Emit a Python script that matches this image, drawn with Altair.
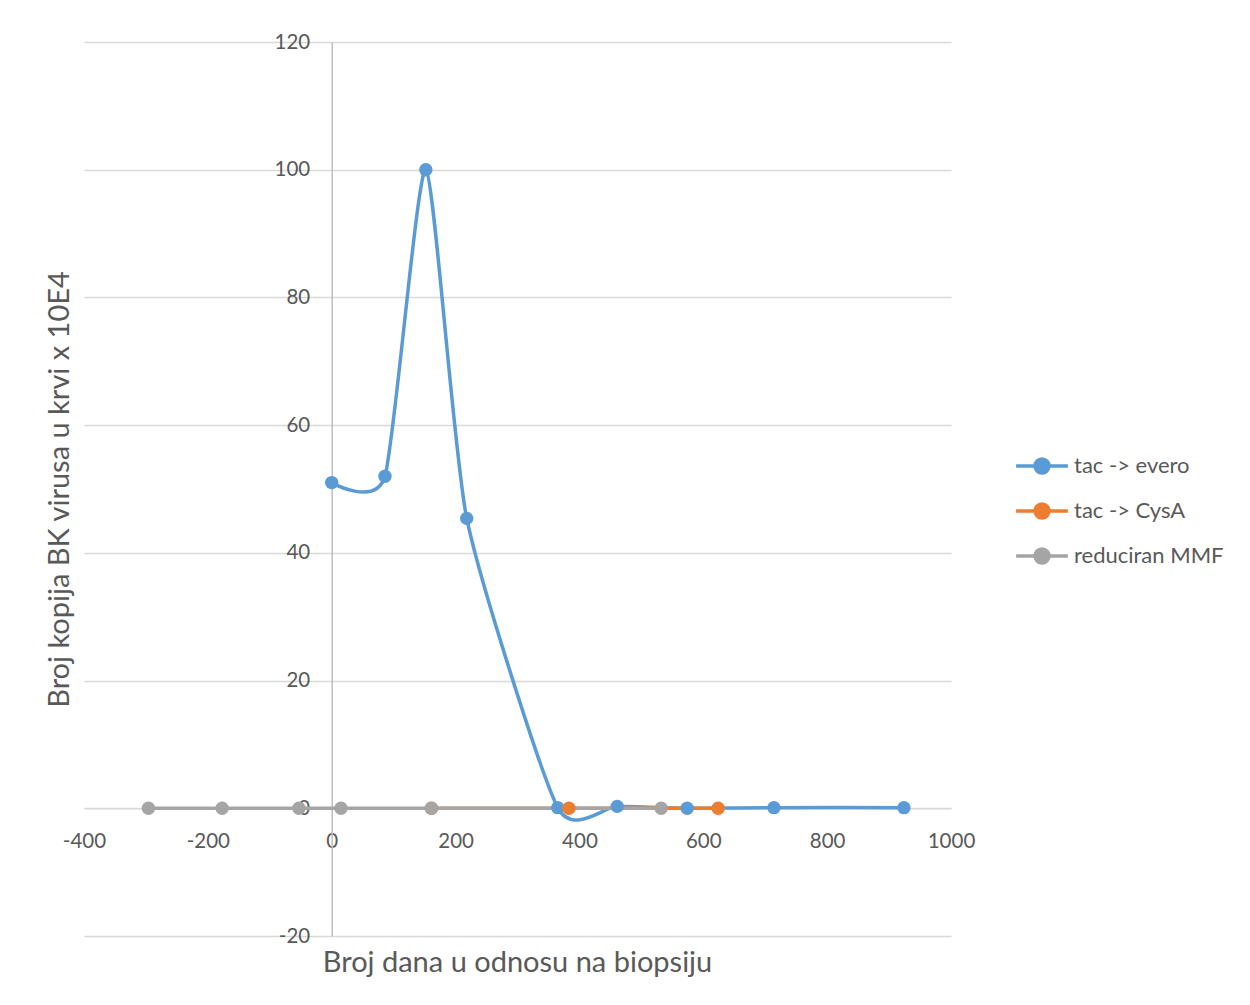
import altair as alt
import pandas as pd

# --- data ---
blue_x = [0, 86, 152, 218, 365, 461, 574, 714, 924]
blue_y = [51.0, 52.0, 100.0, 45.4, 0.1, 0.3, 0.0, 0.1, 0.1]
orange_x = [161, 383, 624]
orange_y = [0.0, 0.0, 0.0]
grey_x = [-296, -177, -53, 15, 161, 532]
grey_y = [0.0, 0.0, 0.0, 0.0, 0.0, 0.0]

series_names = ["tac -> evero", "tac -> CysA", "reduciran MMF"]
series_colors = ["#5B9BD5", "#ED7D31", "#A5A5A5"]
x_ticks = [-400, -200, 0, 200, 400, 600, 800, 1000]
y_ticks = [-20, 0, 20, 40, 60, 80, 100, 120]

rows = []
for xs, ys, name in [(blue_x, blue_y, series_names[0]),
                     (orange_x, orange_y, series_names[1]),
                     (grey_x, grey_y, series_names[2])]:
    for xv, yv in zip(xs, ys):
        rows.append({"x": xv, "y": yv, "series": name})
df = pd.DataFrame(rows)

W, H = 867, 894
XMIN, XMAX, YMIN, YMAX = -400, 1000, -20, 120
y_axis_offset = -(0 - XMIN) / (XMAX - XMIN) * W
x_axis_offset = -(0 - YMIN) / (YMAX - YMIN) * H

FONT = "Lato"
TXT = "#595959"

color = alt.Color(
    "series:N",
    scale=alt.Scale(domain=series_names, range=series_colors),
    legend=alt.Legend(
        title=None,
        orient="none",
        legendX=928,
        legendY=413,
        symbolType="M-3.7,0L-1,0M1,0L3.7,0M1,0A1,1,0,1,1,-1,0A1,1,0,1,1,1,0Z",
        symbolSize=196,
        symbolStrokeWidth=3.5,
        symbolOffset=19,
        labelOffset=21,
        labelFont=FONT,
        labelFontSize=22,
        labelColor=TXT,
        labelLimit=300,
        rowPadding=17,
    ),
)

xenc = alt.X(
    "x:Q",
    scale=alt.Scale(domain=[XMIN, XMAX], nice=False, zero=False),
    axis=alt.Axis(
        values=x_ticks,
        offset=x_axis_offset,
        grid=False,
        ticks=False,
        domainColor="#D9D9D9",
        domainWidth=1.5,
        labelPadding=23,
        labelFont=FONT,
        labelFontSize=20.5,
        labelColor=TXT,
        labelFlush=False,
        labelExpr="'' + datum.value",
        title="Broj dana u odnosu na biopsiju",
        titleFont=FONT,
        titleFontSize=29,
        titleFontWeight="normal",
        titleColor=TXT,
        titleX=433,
        titleY=154,
        titleAlign="center",
        titleBaseline="middle",
    ),
)
yenc = alt.Y(
    "y:Q",
    scale=alt.Scale(domain=[YMIN, YMAX], nice=False, zero=False),
    axis=alt.Axis(
        values=y_ticks,
        offset=y_axis_offset,
        grid=True,
        gridColor="#D9D9D9",
        gridWidth=1.5,
        ticks=False,
        domainColor="#BFBFBF",
        domainWidth=1.5,
        labelPadding=22,
        labelFont=FONT,
        labelFontSize=20.5,
        labelColor=TXT,
        labelFlush=False,
        labelExpr="'' + datum.value",
        title="Broj kopija BK virusa u krvi x 10E4",
        titleFont=FONT,
        titleFontSize=29,
        titleFontWeight="normal",
        titleColor=TXT,
        titleAngle=-90,
        titleX=-272,
        titleY=447,
        titleAlign="center",
        titleBaseline="middle",
    ),
)

base = alt.Chart(df)
layers = []
for name in series_names:
    layers.append(
        base.transform_filter(alt.datum.series == name)
        .mark_line(interpolate="cardinal", tension=0.4, strokeWidth=3.5)
        .encode(x=xenc, y=yenc, stroke=color)
    )
for name in series_names:
    layers.append(
        base.transform_filter(alt.datum.series == name)
        .mark_circle(size=180, opacity=1)
        .encode(x=xenc, y=yenc, fill=color)
    )

chart = alt.layer(*layers).properties(
    width=W,
    height=H,
    autosize=alt.AutoSizeParams(type="none"),
    padding={"left": 76, "top": 34, "right": 290, "bottom": 50},
).configure(background="white").configure_view(stroke=None)

chart.save("out.html", embed_options={"renderer": "svg", "actions": False})
